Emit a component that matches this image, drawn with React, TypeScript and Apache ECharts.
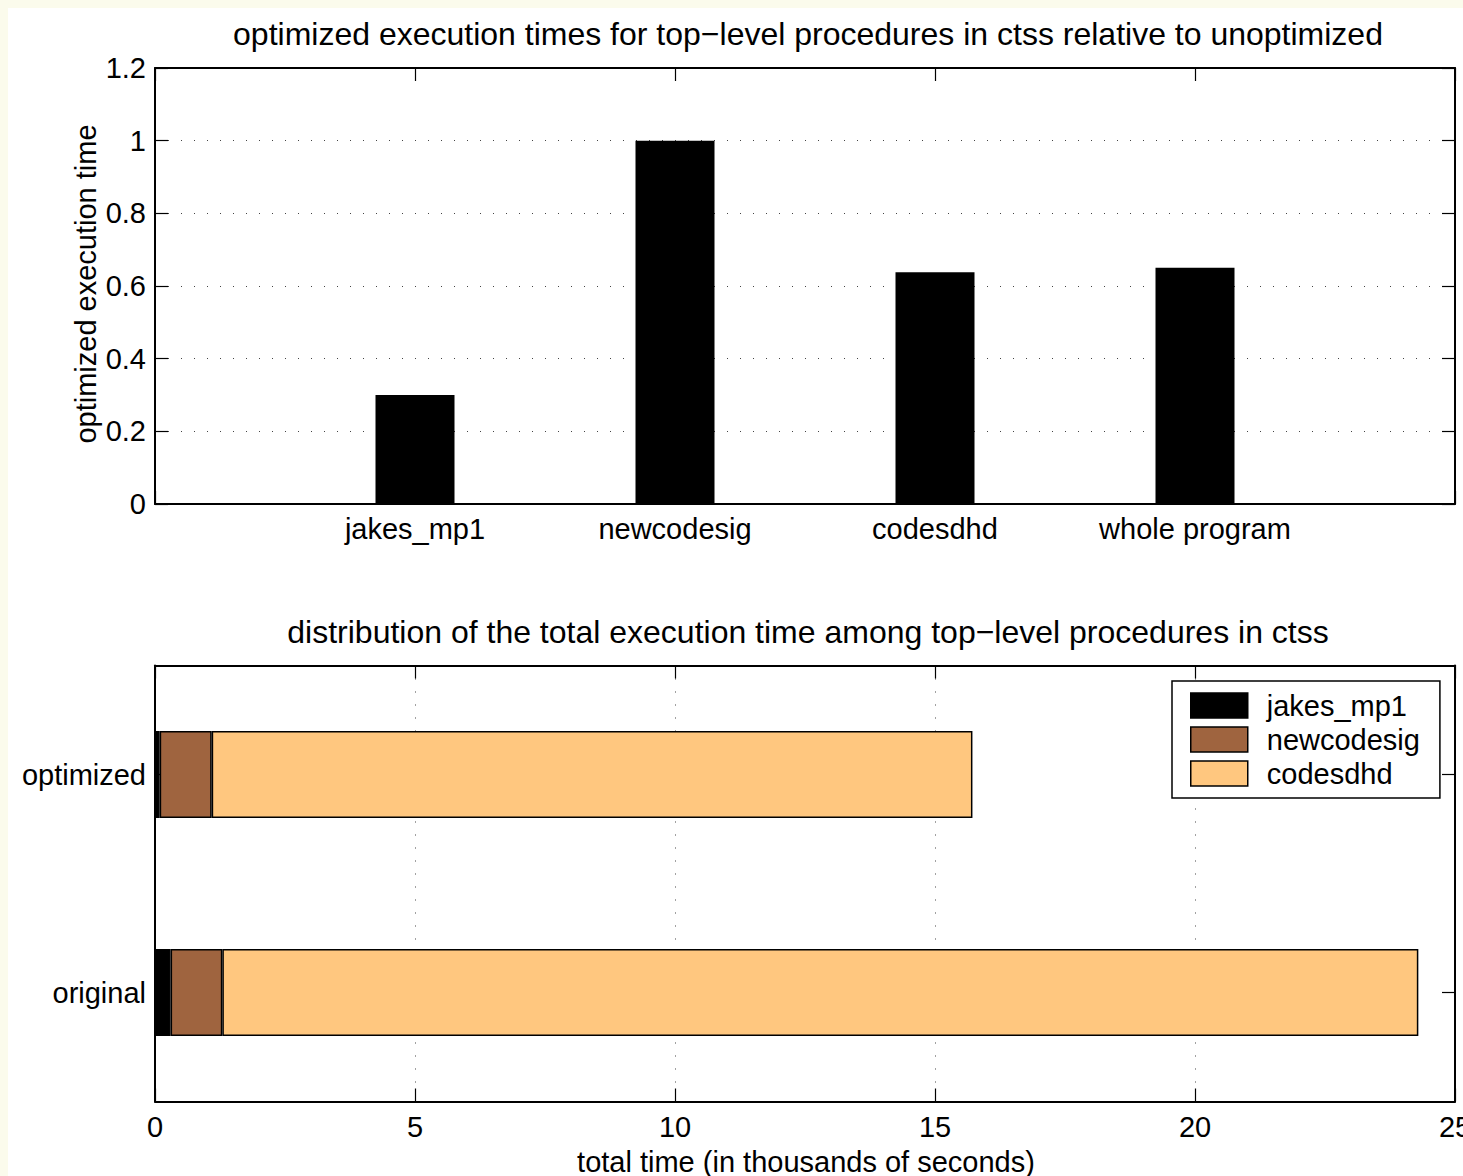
import React, { useEffect, useRef } from "react";
import * as echarts from "echarts";

const topCategories = ["jakes_mp1", "newcodesig", "codesdhd", "whole program"];
const relativeTimes = [0.3, 1.0, 0.638, 0.65];
const topTicks = [0, 0.2, 0.4, 0.6, 0.8, 1, 1.2];

const runLabels = ["original", "optimized"];
const procNames = ["jakes_mp1", "newcodesig", "codesdhd"];
const jakesTimes = [0.3, 0.09];
const newcodesigTimes = [0.995, 1.0];
const codesdhdTimes = [23.0, 14.63];
const procColors = ["#000000", "#9F643F", "#FFC77F"];
const bottomTicks = [0, 5, 10, 15, 20, 25];

const FONT = "'Liberation Sans', Arial, Helvetica, sans-serif";
const FS = 29;
const TFS = 32;

export default function App() {
  const ref = useRef<HTMLDivElement>(null);
  useEffect(() => {
    document.body.style.background = "#fbfbec";
    document.documentElement.style.overflow = "hidden";
    document.documentElement.style.background = "#fbfbec";
    const chart = echarts.init(ref.current!, null, { renderer: "svg", width: 1455, height: 1168 });
    const axisLine = { show: true, onZero: false, lineStyle: { color: "#000", width: 2 } };
    const tick = { show: true, inside: true, length: 13, lineStyle: { color: "#000", width: 1.2 } };
    const dotted = { show: true, lineStyle: { color: "#444", width: 1, type: [1, 12] } };
    const label = { color: "#000", fontSize: FS, fontFamily: FONT };
    const padded = ["", ...topCategories, ""];
    const topData = [null, ...relativeTimes, null];
    const stackData = [jakesTimes, newcodesigTimes, codesdhdTimes];

    chart.setOption({
      animation: false,
      backgroundColor: "#fff",
      textStyle: { fontFamily: FONT },
      grid: [
        { left: 147, top: 60, width: 1300, height: 436, outerBoundsMode: "none", containLabel: false },
        { left: 147, top: 657.5, width: 1300, height: 436, outerBoundsMode: "none", containLabel: false },
      ],
      xAxis: [
        {
          gridIndex: 0, type: "category", data: padded, boundaryGap: false, position: "bottom",
          axisLine, axisTick: tick, axisLabel: { ...label, margin: 10, interval: 0 }, splitLine: { show: false },
        },
        {
          gridIndex: 0, type: "category", data: padded, boundaryGap: false, position: "top",
          axisLine, axisTick: tick, axisLabel: { show: false }, splitLine: { show: false },
        },
        {
          gridIndex: 1, type: "value", min: bottomTicks[0], max: bottomTicks[bottomTicks.length - 1], interval: 5,
          position: "bottom", axisLine, axisTick: tick, axisLabel: { ...label, margin: 11 }, splitLine: dotted,
        },
        {
          gridIndex: 1, type: "value", min: 0, max: 25, interval: 5, position: "top",
          axisLine, axisTick: tick, axisLabel: { show: false }, splitLine: { show: false },
        },
      ],
      yAxis: [
        {
          gridIndex: 0, type: "value", min: topTicks[0], max: topTicks[topTicks.length - 1], interval: 0.2,
          position: "left", axisLine, axisTick: tick, axisLabel: { ...label, margin: 9 }, splitLine: dotted,
        },
        {
          gridIndex: 0, type: "value", min: 0, max: 1.2, interval: 0.2, position: "right",
          axisLine, axisTick: tick, axisLabel: { show: false }, splitLine: { show: false },
        },
        {
          gridIndex: 1, type: "category", data: runLabels, position: "left",
          axisLine, axisTick: { ...tick, alignWithLabel: true }, axisLabel: { ...label, margin: 9 }, splitLine: { show: false },
        },
        {
          gridIndex: 1, type: "category", data: runLabels, position: "right",
          axisLine, axisTick: { ...tick, alignWithLabel: true }, axisLabel: { show: false }, splitLine: { show: false },
        },
      ],
      legend: {
        data: procNames,
        orient: "vertical",
        left: 1164,
        top: 673,
        itemWidth: 57,
        itemHeight: 25,
        itemGap: 5,
        icon: "rect",
        padding: [10, 20, 10, 18],
        backgroundColor: "#fff",
        borderColor: "#000",
        borderWidth: 1.5,
        borderRadius: 0,
        itemStyle: { borderColor: "#000", borderWidth: 1.5 },
        textStyle: { ...label, padding: [0, 0, 0, 14] },
      },
      graphic: [
        {
          type: "text", x: 800, y: 26,
          style: {
            text: "optimized execution times for top\u2212level procedures in ctss relative to unoptimized",
            fontSize: TFS, fontFamily: FONT, fill: "#000", align: "center", verticalAlign: "middle",
          },
        },
        {
          type: "text", x: 800, y: 624,
          style: {
            text: "distribution of the total execution time among top\u2212level procedures in ctss",
            fontSize: TFS, fontFamily: FONT, fill: "#000", align: "center", verticalAlign: "middle",
          },
        },
        {
          type: "text", x: 78, y: 276, rotation: Math.PI / 2,
          style: {
            text: "optimized execution time",
            fontSize: FS, fontFamily: FONT, fill: "#000", align: "center", verticalAlign: "middle",
          },
        },
        {
          type: "text", x: 798, y: 1154,
          style: {
            text: "total time (in thousands of seconds)",
            fontSize: FS, fontFamily: FONT, fill: "#000", align: "center", verticalAlign: "middle",
          },
        },
      ],
      series: [
        {
          type: "bar", name: "relative", xAxisIndex: 0, yAxisIndex: 0, data: topData, barWidth: 79,
          itemStyle: { color: "#000" },
        },
        ...procNames.map((n, i) => ({
          type: "bar", name: n, stack: "total", xAxisIndex: 2, yAxisIndex: 2,
          data: stackData[i], barWidth: "40%",
          itemStyle: { color: procColors[i], borderColor: "#000", borderWidth: 1.5 },
        })),
      ],
    });
    return () => chart.dispose();
  }, []);
  return (
    <div
      ref={ref}
      style={{ position: "absolute", left: 8, top: 8, width: 1455, height: 1168, background: "#fff" }}
    />
  );
}
